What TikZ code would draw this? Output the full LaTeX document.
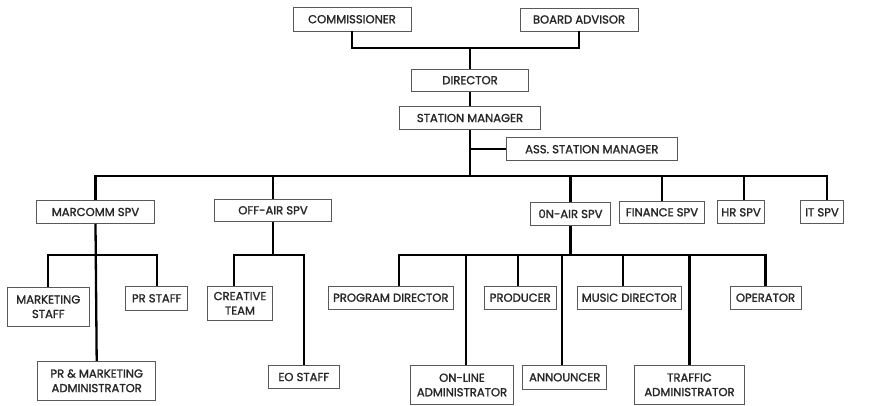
\documentclass[tikz,border=0pt]{standalone}
\usepackage{fontspec}
\setmainfont{Poppins}[FakeBold=1.6]
\begin{document}
\begin{tikzpicture}[x=1pt,y=-1pt,
  box/.style={draw=black!65,line width=0.9pt,inner sep=0pt,align=center,font=\fontsize{11.6}{14.5}\selectfont,text=black!85},
  conn/.style={draw=black,line width=2.3pt}]
\useasboundingbox (0,0) rectangle (881,405);
\newcommand{\bx}[6]{\node[box,minimum width=#4,minimum height=#5] (#1) at (#2,#3) {#6};}
\bx{comm}{352}{19.2}{118}{23.5}{COMMISSIONER}
\bx{board}{579}{19.5}{118}{23}{BOARD ADVISOR}
\bx{dir}{470}{80.2}{117.7}{21.7}{DIRECTOR}
\bx{sm}{470}{118}{141}{22.6}{STATION MANAGER}
\bx{ass}{591.8}{149.2}{170.3}{23}{ASS. STATION MANAGER}
\bx{marcomm}{95.5}{212}{118.3}{22.6}{MARCOMM SPV}
\bx{offair}{273}{210.3}{116.6}{22.7}{OFF-AIR SPV}
\bx{onair}{570.5}{213.8}{79.3}{23}{0N-AIR SPV}
\bx{finance}{662}{212.3}{85.7}{22.7}{FINANCE SPV}
\bx{hr}{741}{212.3}{47}{23}{HR SPV}
\bx{it}{822}{212.3}{43.4}{23}{IT SPV}
\bx{mkt}{48.3}{306.7}{82}{38.7}{MARKETING\\STAFF}
\bx{prstaff}{156.7}{298.3}{62}{23.3}{PR STAFF}
\bx{pradmin}{96.7}{380.8}{118}{38.3}{PR \& MARKETING\\ADMINISTRATOR}
\bx{creative}{240}{303.3}{65.4}{34.7}{CREATIVE\\TEAM}
\bx{eo}{303.8}{377}{70.3}{23.4}{EO STAFF}
\bx{prog}{390.8}{297.7}{125}{23.3}{PROGRAM DIRECTOR}
\bx{producer}{520.2}{297.7}{71.7}{23.3}{PRODUCER}
\bx{music}{629.3}{297.7}{104.7}{23.3}{MUSIC DIRECTOR}
\bx{operator}{765.5}{297.7}{71}{23.3}{OPERATOR}
\bx{online}{462}{385}{102.6}{38.6}{ON-LINE\\ADMINISTRATOR}
\bx{announcer}{564.7}{377.3}{84}{23.3}{ANNOUNCER}
\bx{traffic}{689.5}{384.8}{109.6}{38.3}{TRAFFIC\\ADMINISTRATOR}
\coordinate (j1) at (470,47.7);
\coordinate (j2) at (470,176);
\coordinate (j3) at (95.5,255);
\coordinate (j4) at (273,255);
\coordinate (j5) at (570.5,255);
% top
\draw[conn] (comm.south) |- (j1) -| (board.south);
\draw[conn] (j1) -- (dir.north);
\draw[conn] (dir.south) -- (sm.north);
\draw[conn] (sm.south) -- (j2);
\draw[conn] (ass.west) -- (ass.west -| sm.south);
% second level bar
\draw[conn] (marcomm.north) |- (j2) -| ([xshift=5.3]it.north);
\foreach \n/\d in {offair/0,onair/0,finance/0,hr/3} \draw[conn] ([xshift=\d]\n.north) -- ([xshift=\d]\n.north |- j2);
% marcomm
\draw[conn] (marcomm.south) -- (pradmin.north);
\draw[conn] (mkt.north) |- (j3) -| (prstaff.north);
% offair
\draw[conn] (offair.south) -- (j4);
\draw[conn] ([xshift=-5.7]creative.north) |- (j4) -| (eo.north);
% onair
\draw[conn] (onair.south) -- (j5);
\draw[conn] ([xshift=8.2]prog.north) |- (j5) -| (operator.north);
\foreach \n/\d in {online/3.7,producer/-1.9,announcer/-2.4,music/-6,traffic/0}
  \draw[conn] ([xshift=\d]\n.north) -- ([xshift=\d]\n.north |- j5);
\end{tikzpicture}
\end{document}
